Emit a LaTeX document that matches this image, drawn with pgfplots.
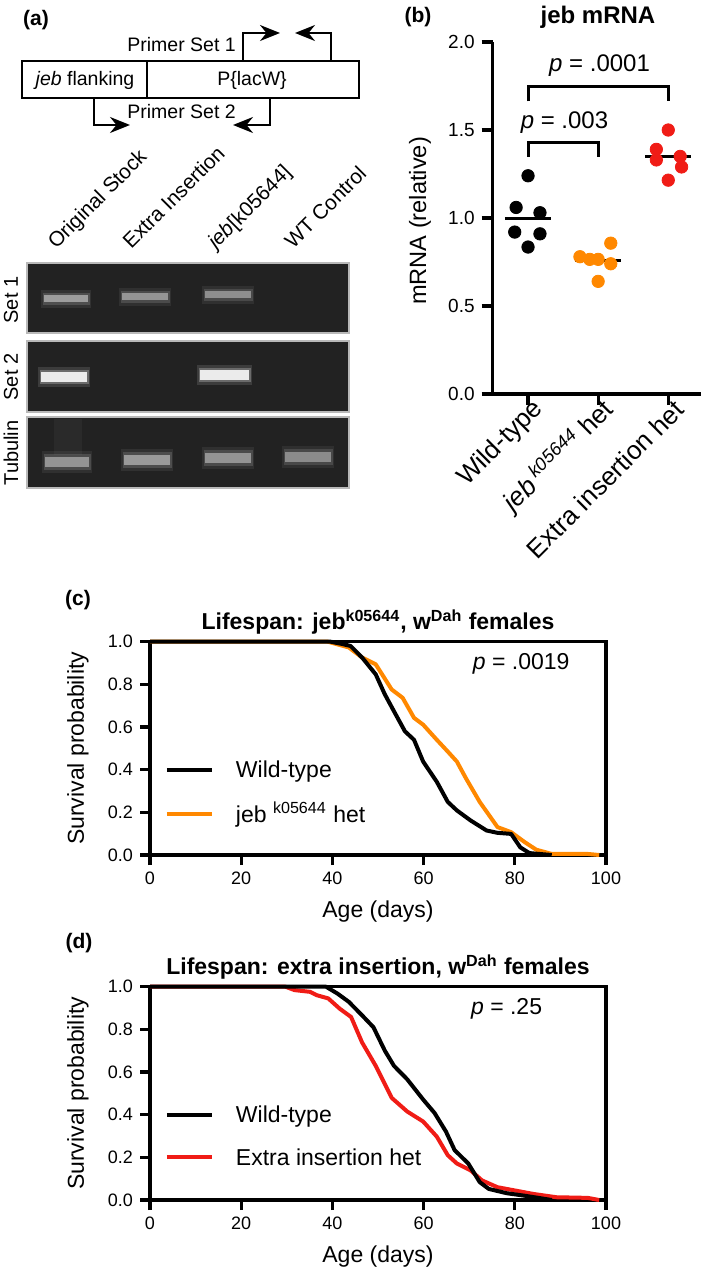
\documentclass[border=0pt]{standalone}
\usepackage{pgfplots}
\pgfplotsset{compat=1.18}
\usepackage{fontspec}
\setmainfont{Liberation Sans}
\usetikzlibrary{arrows.meta}
\definecolor{jorange}{RGB}{255,136,0}
\definecolor{jred}{RGB}{240,28,22}
\definecolor{gelbg}{RGB}{34,34,34}
\newcommand{\fs}[1]{\fontsize{#1}{#1}\selectfont}
\newcommand{\band}[6]{%
  \addplot[line width=#6, color=#4, opacity=0.12, line cap=butt] coordinates {(#1-3,#3) (#2+3,#3)};
  \addplot[line width=#6*0.7, color=#4, opacity=0.25, line cap=butt] coordinates {(#1-1.5,#3) (#2+1.5,#3)};
  \addplot[line width=#5, color=#4, opacity=0.9, line cap=butt] coordinates {(#1,#3) (#2,#3)};}
\pgfplotsset{
  gel/.style={scale only axis, width=161pt, xmin=27, xmax=349,
    axis background/.style={fill=gelbg}, axis line style={draw=gray!55, line width=0.6pt},
    ticks=none, clip=true},
  surv/.style={scale only axis, width=228pt, height=106.65pt,
    xmin=0, xmax=100, ymin=0, ymax=1,
    xtick={0,20,40,60,80,100}, ytick={0,0.2,0.4,0.6,0.8,1},
    tick pos=left, tick align=outside, major tick length=5pt,
    axis line style={line width=1.6pt}, tick style={line width=1.6pt, black},
    ticklabel style={font=\fs{9}},
    yticklabel style={/pgf/number format/.cd, fixed, fixed zerofill, precision=1},
    /pgf/number format/assume math mode=true,
    clip=false}
}
\begin{document}
\begin{tikzpicture}
\path[use as bounding box] (0,0) rectangle (354.5pt,-636.5pt);
% ---------------- panel (a) diagram -----------------
\begin{scope}[x=0.5pt,y=-0.5pt]
\node[font=\fs{10.5}\bfseries] at (36,20) {(a)};
\draw[line width=1.1pt] (22,61) rectangle (359,98);
\draw[line width=1.1pt] (147,61) -- (147,98);
\node[font=\fs{9.75}] at (85,80) {\textit{jeb} flanking};
\node[font=\fs{9.75}] at (252,80) {P\{lacW\}};
\node[font=\fs{9.75}, anchor=west, inner sep=0pt] at (127,45) {Primer Set 1};
\node[font=\fs{9.75}, anchor=west, inner sep=0pt] at (127,112) {Primer Set 2};
\draw[line width=1.1pt, -{Stealth[length=10pt,width=8pt]}] (243,61) -- (243,33) -- (280,33);
\draw[line width=1.1pt, -{Stealth[length=10pt,width=8pt]}] (331,61) -- (331,33) -- (295,33);
\draw[line width=1.1pt, -{Stealth[length=10pt,width=8pt]}] (94,98) -- (94,125) -- (130,125);
\draw[line width=1.1pt, -{Stealth[length=10pt,width=8pt]}] (270,98) -- (270,125) -- (233,125);
\node[font=\fs{10.4}, rotate=45, anchor=base west, inner sep=0pt] at (56,250) {Original Stock};
\node[font=\fs{10.4}, rotate=45, anchor=base west, inner sep=0pt] at (131,250) {Extra Insertion};
\node[font=\fs{10.4}, rotate=45, anchor=base west, inner sep=0pt] at (216,250) {\textit{jeb}[k05644]};
\node[font=\fs{10.4}, rotate=45, anchor=base west, inner sep=0pt] at (293,250) {WT Control};
\node[font=\fs{10}, rotate=90] at (11,300) {Set 1};
\node[font=\fs{10}, rotate=90] at (11,377) {Set 2};
\node[font=\fs{10}, rotate=90] at (11,453) {Tubulin};
% panel letters and (b) texts
\node[font=\fs{10.5}\bfseries] at (418,17) {(b)};
\node[font=\fs{12}\bfseries] at (598,17) {jeb mRNA};
\node[font=\fs{11.8}, rotate=90] at (420,221) {mRNA (relative)};
\node[font=\fs{10.5}\bfseries] at (78,600) {(c)};
\node[font=\fs{10.5}\bfseries] at (79,943) {(d)};
\end{scope}
% ---------------- gel strips -----------------
\begin{axis}[gel, at={(13.5pt,-166.5pt)}, anchor=south west, height=35pt, ymin=-333, ymax=-263]
\band{44}{88}{-299}{gray!70}{3.5pt}{9pt}
\band{122}{168}{-297}{gray!78}{3.5pt}{9pt}
\band{205}{251}{-295}{gray!82}{3.5pt}{9pt}
\end{axis}
\begin{axis}[gel, at={(13.5pt,-206pt)}, anchor=south west, height=35.5pt, ymin=-412, ymax=-341]
\band{41}{87}{-377}{white!96!gray}{5pt}{10pt}
\band{200}{249}{-375}{white!96!gray}{5pt}{10pt}
\end{axis}
\begin{axis}[gel, at={(13.5pt,-244pt)}, anchor=south west, height=35.5pt, ymin=-488, ymax=-417]
\addplot[line width=14pt, color=gray!60, opacity=0.06] coordinates {(68,-419) (68,-455)};
\band{45}{89}{-462}{gray!78}{5pt}{11pt}
\band{124}{170}{-460}{gray!72}{5pt}{11pt}
\band{205}{251}{-458}{gray!78}{5pt}{11pt}
\band{285}{331}{-457}{gray!85}{5pt}{11pt}
\end{axis}
% ---------------- panel (b) -----------------
\begin{axis}[at={(246.35pt,-197pt)}, anchor=south west, scale only axis,
  width=104.15pt, height=176pt,
  xmin=-0.504, xmax=2.467, ymin=0, ymax=2,
  axis lines=left, axis line style={-, line width=1.6pt},
  tick style={line width=1.6pt, black}, tick align=outside, major tick length=5.5pt,
  xtick={0,1,2},
  xticklabels={Wild-type, \textit{jeb}\,\textsuperscript{\textit{k05644}} het, Extra insertion het},
  xticklabel style={font=\fs{13}, rotate=45, anchor=east, inner sep=1pt, xshift=5pt, yshift=-4pt},
  ytick={0,0.5,1,1.5,2},
  yticklabel style={font=\fs{9.5}, /pgf/number format/.cd, fixed, fixed zerofill, precision=1},
  /pgf/number format/assume math mode=true,
  clip=false]
\addplot[only marks, mark=*, mark size=3.1pt, color=black] coordinates {
(0,1.24) (-0.17,1.06) (0.17,1.03) (-0.19,0.92) (0.17,0.91) (0,0.835)};
\addplot[only marks, mark=*, mark size=3.1pt, color=jorange] coordinates {
(0.74,0.78) (0.88,0.765) (1,0.765) (1.18,0.857) (1.18,0.74) (1,0.64)};
\addplot[only marks, mark=*, mark size=3.1pt, color=jred] coordinates {
(2,1.50) (1.83,1.39) (2.17,1.35) (1.83,1.33) (2.19,1.29) (2,1.215)};
\addplot[line width=1.5pt, black] coordinates {(-0.33,1.0) (0.33,1.0)};
\addplot[line width=1.5pt, black] coordinates {(0.67,0.756) (1.33,0.756)};
\addplot[line width=1.5pt, black] coordinates {(1.67,1.347) (2.33,1.347)};
\addplot[line width=1.5pt, black] coordinates {(0,1.662) (0,1.747) (2,1.747) (2,1.662)};
\addplot[line width=1.5pt, black] coordinates {(0,1.348) (0,1.429) (1,1.429) (1,1.348)};
\node[font=\fs{12}] at (axis cs:1.02,1.864) {\textit{p} = .0001};
\node[font=\fs{12}] at (axis cs:0.52,1.54) {\textit{p} = .003};
\end{axis}
% ---------------- panel (c) -----------------
\begin{axis}[surv, at={(75pt,-427.5pt)}, anchor=south west]
\addplot[line width=2pt, color=jorange, line join=round] coordinates {
(0,1) (39,1) (43.6,0.973) (46.5,0.926) (49.5,0.894) (53,0.776) (55.4,0.737)
(57.9,0.643) (59.9,0.611) (62.9,0.54) (65.3,0.485) (67.3,0.438) (69.3,0.359)
(72.3,0.249) (76.2,0.131) (79.2,0.107) (82.2,0.06) (84.7,0.025) (88.1,0.005)
(96,0.005) (98.5,0)};
\addplot[line width=2pt, color=black, line join=round] coordinates {
(0,1) (39.6,1) (42,0.99) (44,0.98) (46.5,0.926) (49.5,0.847) (51.5,0.753)
(53.5,0.674) (55.9,0.58) (57.9,0.54) (59.9,0.438) (62.9,0.343) (65.3,0.249)
(67.3,0.209) (70.3,0.162) (73.8,0.115) (76.2,0.104) (79.2,0.099) (81.2,0.036)
(83.2,0.009) (88.1,0)};
\addplot[line width=2pt, color=black] coordinates {(3.7,0.4) (13.6,0.4)};
\addplot[line width=2pt, color=jorange] coordinates {(3.7,0.19) (13.6,0.19)};
\node[font=\fs{11.5}, anchor=base west] at (axis cs:17.3,0.362) {Wild-type};
\node[font=\fs{11.5}, anchor=base west] at (axis cs:17.3,0.152) {jeb \textsuperscript{k05644} het};
\node[font=\fs{11.5}] at (axis cs:81.4,0.894) {\textit{p} = .0019};
\node[font=\fs{11.5}\bfseries, anchor=base] at ([yshift=6pt]rel axis cs:0.5,1) {Lifespan: jeb\textsuperscript{k05644}, w\textsuperscript{Dah} females};
\node[font=\fs{11.5}, rotate=90] at ([xshift=-36pt]rel axis cs:0,0.5) {Survival probability};
\node[font=\fs{11.5}] at ([yshift=-28.5pt]rel axis cs:0.5,0) {Age (days)};
\end{axis}
% ---------------- panel (d) -----------------
\begin{axis}[surv, at={(75pt,-600pt)}, anchor=south west]
\addplot[line width=2pt, color=jred, line join=round] coordinates {
(0,1) (29.7,1) (31.7,0.984) (35.1,0.976) (36.6,0.96) (39.1,0.945) (41.6,0.897)
(44.1,0.858) (46.5,0.739) (49.5,0.629) (53,0.479) (56.4,0.415) (59.9,0.368)
(62.9,0.297) (65.3,0.21) (67.3,0.171) (70.3,0.139) (72.8,0.092) (76.2,0.06)
(80.2,0.044) (84.2,0.028) (89.1,0.013) (96,0.01) (98.5,0)};
\addplot[line width=2pt, color=black, line join=round] coordinates {
(0,1) (38.6,1) (41.1,0.968) (43.6,0.929) (46.5,0.866) (49,0.81) (51.5,0.70)
(53.5,0.629) (56.4,0.566) (59.9,0.471) (62.4,0.408) (64.9,0.321) (66.8,0.234)
(69.8,0.171) (72.3,0.084) (74.3,0.052) (78.2,0.032) (82.2,0.02) (88.1,0)};
\addplot[line width=2pt, color=black] coordinates {(3.7,0.4) (13.6,0.4)};
\addplot[line width=2pt, color=jred] coordinates {(3.7,0.2) (13.6,0.2)};
\node[font=\fs{11.5}, anchor=base west] at (axis cs:17.3,0.362) {Wild-type};
\node[font=\fs{11.5}, anchor=base west] at (axis cs:17.3,0.162) {Extra insertion het};
\node[font=\fs{11.5}] at (axis cs:78.2,0.897) {\textit{p} = .25};
\node[font=\fs{11.5}\bfseries, anchor=base] at ([yshift=6pt]rel axis cs:0.5,1) {Lifespan: extra insertion, w\textsuperscript{Dah} females};
\node[font=\fs{11.5}, rotate=90] at ([xshift=-36pt]rel axis cs:0,0.5) {Survival probability};
\node[font=\fs{11.5}] at ([yshift=-28.5pt]rel axis cs:0.5,0) {Age (days)};
\end{axis}
\end{tikzpicture}
\end{document}
